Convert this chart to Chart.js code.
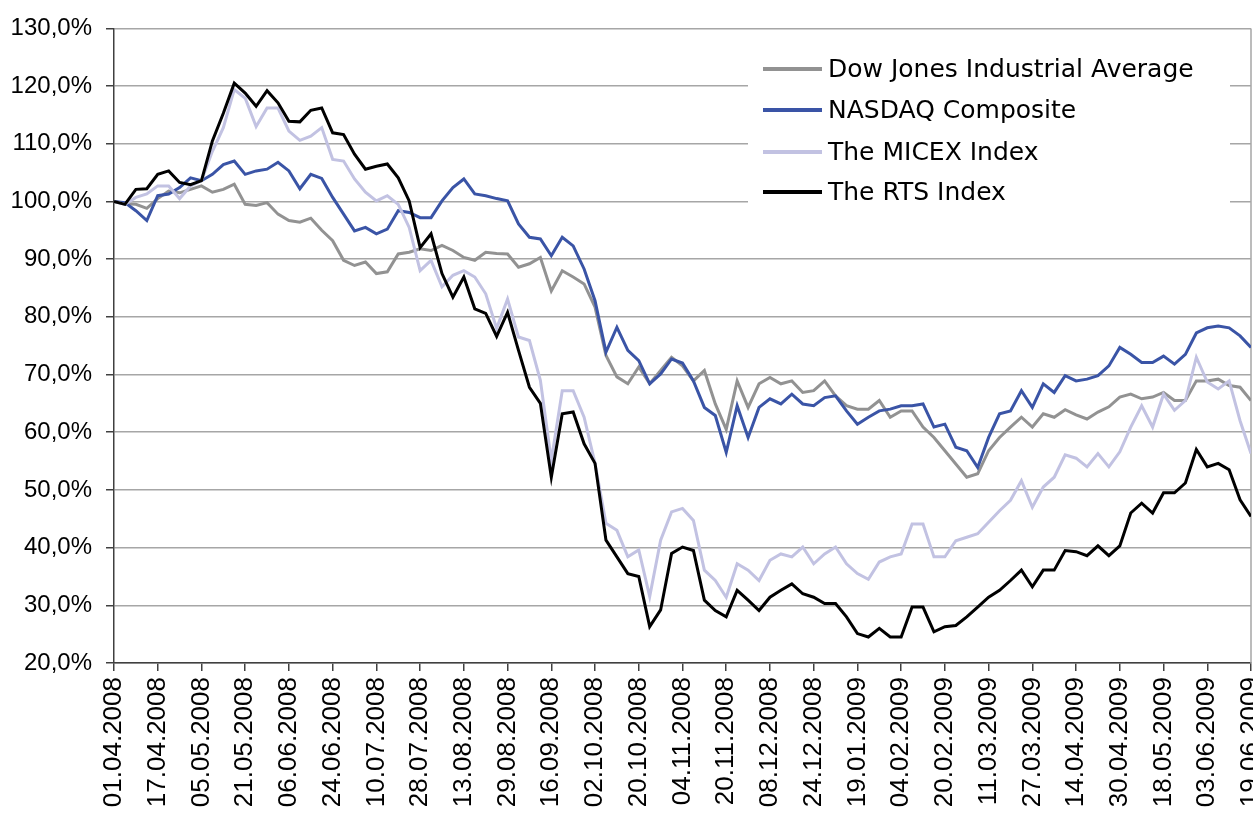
<!DOCTYPE html>
<html>
<head>
<meta charset="utf-8">
<script src="https://cdn.jsdelivr.net/npm/chart.js@4.4.1/dist/chart.umd.min.js"></script>
<style>
html, body { margin: 0; padding: 0; background: #fff; }
</style>
</head>
<body>
<canvas id="chart" width="1253" height="814"></canvas>
<script>
// Tick labels on the x axis (one every 12 trading days)
const tickLabels = [
    '01.04.2008', '17.04.2008', '05.05.2008', '21.05.2008', '06.06.2008', '24.06.2008',
    '10.07.2008', '28.07.2008', '13.08.2008', '29.08.2008', '16.09.2008', '02.10.2008',
    '20.10.2008', '04.11.2008', '20.11.2008', '08.12.2008', '24.12.2008', '19.01.2009',
    '04.02.2009', '20.02.2009', '11.03.2009', '27.03.2009', '14.04.2009', '30.04.2009',
    '18.05.2009', '03.06.2009', '19.06.2009'
];

// Series values in %, read every 3rd trading day
const STEP = 3;

const dowJones = [
    100, 99.6, 99.5, 98.8, 100.5, 101.8, 101.5, 102.1, 102.7, 101.6,
    102.1, 103, 99.5, 99.3, 99.8, 97.8, 96.7, 96.4, 97.1, 95,
    93.2, 89.8, 88.9, 89.5, 87.5, 87.8, 90.9, 91.2, 91.8, 91.5,
    92.4, 91.5, 90.3, 89.8, 91.2, 91, 90.9, 88.6, 89.2, 90.3,
    84.5, 88, 86.9, 85.7, 81.7, 73.3, 69.6, 68.4, 71.3, 68.4,
    70.7, 73, 71.5, 68.9, 70.7, 64.9, 60.5, 68.9, 64.3, 68.4,
    69.5, 68.4, 68.9, 66.9, 67.2, 68.9, 66.3, 64.6, 64, 64,
    65.5, 62.6, 63.7, 63.7, 60.9, 59.1, 56.8, 54.5, 52.2, 52.8,
    56.8, 59.1, 60.9, 62.6, 60.9, 63.2, 62.6, 63.9, 63, 62.3,
    63.5, 64.4, 66.1, 66.6, 65.8, 66.1, 66.9, 65.5, 65.5, 68.9,
    68.9, 69.2, 68.1, 67.8, 65.5
];

const nasdaq = [
    100, 99.8, 98.4, 96.7, 101, 101.3, 102.4, 104.1, 103.6, 104.7,
    106.4, 107, 104.7, 105.3, 105.6, 106.8, 105.3, 102.2, 104.7, 104,
    100.7, 97.8, 94.9, 95.5, 94.4, 95.2, 98.4, 98.1, 97.2, 97.2,
    100.1, 102.4, 103.9, 101.3, 101, 100.5, 100.1, 96.1, 93.8, 93.5,
    90.6, 93.8, 92.3, 88.3, 82.8, 73.9, 78.2, 74.2, 72.4, 68.4,
    70.1, 72.7, 72, 68.9, 64.3, 62.9, 56.5, 64.6, 59.1, 64.3,
    65.8, 64.9, 66.6, 64.9, 64.6, 66, 66.3, 63.7, 61.4, 62.6,
    63.7, 64, 64.6, 64.6, 64.9, 60.9, 61.4, 57.4, 56.8, 53.9,
    59.1, 63.2, 63.7, 67.2, 64.3, 68.4, 66.9, 69.8, 68.9, 69.2,
    69.8, 71.5, 74.7, 73.5, 72.1, 72.1, 73.2, 71.8, 73.5, 77.2,
    78.1, 78.4, 78.1, 76.7, 74.7
];

const micex = [
    100, 99.5, 100.7, 101.3, 102.7, 102.7, 100.5, 102.7, 103.6, 108.7,
    112.8, 119.4, 117.9, 113, 116.2, 116.2, 112.2, 110.6, 111.3, 112.8,
    107.3, 107, 103.9, 101.6, 100.1, 101, 99.5, 95.5, 88, 89.8,
    85.2, 87.2, 88, 86.9, 84, 78, 83.1, 76.5, 75.9, 69,
    55.1, 67.2, 67.2, 62.6, 54.6, 44.2, 43, 38.4, 39.6, 31.5,
    41.3, 46.2, 46.8, 44.7, 36.1, 34.3, 31.4, 37.2, 36.1, 34.3,
    37.8, 38.9, 38.4, 40.1, 37.2, 38.9, 40.1, 37.2, 35.5, 34.5,
    37.5, 38.4, 38.9, 44.1, 44.1, 38.4, 38.4, 41.2, 41.8, 42.4,
    44.4, 46.4, 48.2, 51.6, 47, 50.5, 52.2, 56.1, 55.5, 54,
    56.3, 54, 56.6, 60.9, 64.6, 60.9, 66.6, 63.8, 65.5, 73,
    68.7, 67.5, 68.9, 62, 56.3
];

const rts = [
    100, 99.5, 102.1, 102.2, 104.7, 105.3, 103.3, 102.9, 103.6, 110.5,
    115.3, 120.5, 118.8, 116.5, 119.2, 117.1, 113.9, 113.8, 115.8, 116.2,
    111.9, 111.6, 108.2, 105.6, 106.1, 106.5, 104.1, 100.1, 92, 94.4,
    87.5, 83.4, 86.9, 81.4, 80.6, 76.6, 80.8, 74.2, 67.8, 65,
    52.2, 63.2, 63.5, 58, 54.6, 41.3, 38.4, 35.5, 35, 26.3,
    29.2, 39, 40.1, 39.5, 30.9, 29.1, 28, 32.6, 30.9, 29.1,
    31.4, 32.6, 33.7, 32, 31.4, 30.3, 30.3, 28, 25.1, 24.5,
    26, 24.5, 24.5, 29.7, 29.7, 25.4, 26.3, 26.5, 28, 29.7,
    31.4, 32.6, 34.3, 36.1, 33.2, 36.1, 36.1, 39.5, 39.3, 38.6,
    40.3, 38.6, 40.3, 46, 47.7, 46, 49.5, 49.5, 51.2, 57,
    54, 54.6, 53.5, 48.3, 45.4
];

const seriesNames = ['Dow Jones Industrial Average', 'NASDAQ Composite', 'The MICEX Index', 'The RTS Index'];
const seriesColors = ['#929292', '#3a54a6', '#c2c2e2', '#000000'];

const FONT = '"DejaVu Sans", sans-serif';
const TICK_FONT = '"Liberation Sans", Arial, sans-serif';

function toPoints(values) {
    return values.map((v, i) => ({ x: i * STEP, y: v }));
}

// Right edge of the plot area
const frameLine = {
    id: 'frameLine',
    beforeDatasetsDraw(chart) {
        const { ctx, chartArea } = chart;
        ctx.save();
        ctx.strokeStyle = '#a6a6a6';
        ctx.lineWidth = 1.5;
        ctx.beginPath();
        ctx.moveTo(chartArea.right, chartArea.top);
        ctx.lineTo(chartArea.right, chartArea.bottom);
        ctx.stroke();
        ctx.restore();
    }
};

// Legend box inside the plot
const boxLegend = {
    id: 'boxLegend',
    afterDraw(chart) {
        const { ctx } = chart;
        ctx.save();
        ctx.fillStyle = '#ffffff';
        ctx.fillRect(748, 44, 482, 164);
        const rows = [69, 110, 152, 192];
        ctx.font = '25px ' + FONT;
        ctx.textBaseline = 'middle';
        ctx.textAlign = 'left';
        seriesNames.forEach((name, i) => {
            ctx.strokeStyle = seriesColors[i];
            ctx.lineWidth = 4;
            ctx.beginPath();
            ctx.moveTo(763, rows[i]);
            ctx.lineTo(822, rows[i]);
            ctx.stroke();
            ctx.fillStyle = '#000';
            ctx.fillText(name, 828, rows[i] + 1);
        });
        ctx.restore();
    }
};

const datasets = [dowJones, nasdaq, micex, rts].map((values, i) => ({
    label: seriesNames[i],
    data: toPoints(values),
    borderColor: seriesColors[i],
    borderWidth: 3,
    pointRadius: 0,
    fill: false,
    tension: 0,
    order: 4 - i
}));

const ctx = document.getElementById('chart').getContext('2d');
const chart = new Chart(ctx, {
    type: 'line',
    data: { datasets: datasets },
    options: {
        responsive: false,
        animation: false,
        layout: { padding: { top: 27, right: 2, left: 0, bottom: 0 } },
        plugins: {
            legend: { display: false },
            tooltip: { enabled: false }
        },
        scales: {
            x: {
                type: 'linear',
                min: 0,
                max: (tickLabels.length - 1) * 12,
                border: { color: '#404040', width: 1.5 },
                grid: { drawOnChartArea: false, tickLength: 8, tickColor: '#404040', lineWidth: 1.5 },
                ticks: {
                    stepSize: 12,
                    autoSkip: false,
                    maxRotation: 90,
                    minRotation: 90,
                    padding: 6,
                    color: '#000',
                    font: { family: TICK_FONT, size: 26 },
                    callback: (v) => tickLabels[Math.round(v / 12)] || ''
                },
                afterFit(scale) {
                    scale.height = 151;
                    scale.paddingLeft = 0;
                    scale.paddingRight = 0;
                }
            },
            y: {
                min: 20,
                max: 130,
                border: { color: '#404040', width: 1.5 },
                grid: { color: '#a6a6a6', lineWidth: 1.5, tickLength: 8, tickColor: '#404040' },
                ticks: {
                    stepSize: 10,
                    padding: 14,
                    color: '#000',
                    font: { family: TICK_FONT, size: 24 },
                    callback: (v) => v.toFixed(1).replace('.', ',') + '%'
                },
                afterFit(scale) {
                    scale.width = 114;
                }
            }
        }
    },
    plugins: [frameLine, boxLegend]
});
</script>
</body>
</html>
